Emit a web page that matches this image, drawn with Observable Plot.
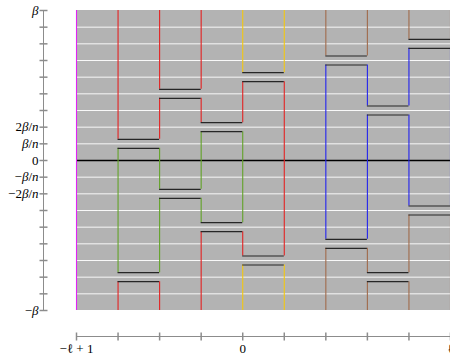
<!DOCTYPE html>
<html>
<head>
<meta charset="utf-8">
<script src="https://cdn.jsdelivr.net/npm/d3@7"></script>
<script src="https://cdn.jsdelivr.net/npm/@observablehq/plot@0.6"></script>
<style>
  html, body { margin: 0; padding: 0; overflow: hidden; background: #fff; width: 450px; height: 354px; }
  svg { max-width: none !important; display: block; }
</style>
</head>
<body>
<div id="chart"></div>
<script>
// ---- data ----
const xMin = -4, xMax = 5;          // -ℓ+1 … ℓ  (ℓ = 5)
const yMin = -9, yMax = 9;          // -β … β in units of β/n (n = 9)
const cutGap = 0.27;                // half gap of a cut pair (units of β/n)

// columns [c, c+1] that carry a pair of cuts, with their levels
const cutColumns = [-3, -2, -1, 0, 2, 3, 4];
const upperCuts  = [ 1,  4,  2, 5, 6, 3, 7];
const lowerCuts  = [-7, -2, -4, -6, -5, -7, -3];

// colored vertical lines at integer positions, pieces listed top to bottom
const RED = "#e32222", GREEN = "#62a328", YELLOW = "#f2c811", BROWN = "#a06b4c", BLUE = "#2424ee", MAGENTA = "#e024f5";
const lineXs = [-4, -3, -2, -1, 0, 1, 2, 3, 4, 5];
const lineColors = [
  [MAGENTA],
  [RED, GREEN, RED],
  [RED, RED, GREEN, GREEN, RED],
  [RED, RED, GREEN, GREEN, RED],
  [YELLOW, RED, GREEN, RED, YELLOW],
  [YELLOW, RED, YELLOW],
  [BROWN, BLUE, BROWN],
  [BROWN, BLUE, BLUE, BROWN, BROWN],
  [BROWN, BLUE, BLUE, BROWN, BROWN],
  [BROWN, BLUE, BROWN]
];

// axes
const gridLevels = [-8, -7, -6, -5, -4, -3, -2, -1, 1, 2, 3, 4, 5, 6, 7, 8];
const yTicks = [-9, -8, -7, -6, -5, -4, -3, -2, -1, 0, 1, 2, 3, 4, 5, 6, 7, 8, 9];
const yLabelValues = [9, 2, 1, 0, -1, -2, -9];
const yLabelText = ["β", "2β/n", "β/n", "0", "−β/n", "−2β/n", "−β"];
const xTicks = [-4, -3, -2, -1, 0, 1, 2, 3, 4, 5];
const xLabelValues = [-4, 0, 5];
const xLabelText = ["−ℓ + 1", "0", "ℓ"];

// ---- derived tables ----
const cutSegments = [];
cutColumns.forEach((c, i) => {
  for (const level of [upperCuts[i], lowerCuts[i]]) {
    cutSegments.push({x1: c, x2: c + 1, y: level + cutGap});
    cutSegments.push({x1: c, x2: c + 1, y: level - cutGap});
  }
});

const verticals = [];
lineXs.forEach((x, i) => {
  const levels = [];
  cutColumns.forEach((c, j) => {
    if (c === x - 1 || c === x) levels.push(upperCuts[j], lowerCuts[j]);
  });
  levels.sort((a, b) => b - a);
  const colors = lineColors[i];
  let top = yMax;
  levels.forEach((lv, k) => {
    verticals.push({x, y1: lv + cutGap, y2: top, color: colors[k]});
    top = lv - cutGap;
  });
  verticals.push({x, y1: yMin, y2: top, color: colors[levels.length]});
});

const hTick = {draw(ctx) { ctx.moveTo(-4, 0); ctx.lineTo(4, 0); }};
const vTick = {draw(ctx) { ctx.moveTo(0, -4); ctx.lineTo(0, 4); }};
const axisColor = "#8c8c8c";
const font = "Liberation Serif";

const chart = Plot.plot({
  width: 470,
  height: 354,
  marginLeft: 76,
  marginRight: 20,
  marginTop: 10,
  marginBottom: 44,
  x: {domain: [xMin, xMax], axis: null},
  y: {domain: [yMin, yMax], axis: null},
  color: {type: "identity"},
  style: {background: "white", overflow: "visible"},
  marks: [
    Plot.rect([0], {x1: () => xMin, x2: () => xMax, y1: () => yMin, y2: () => yMax, fill: "#b3b3b3"}),
    Plot.ruleY(gridLevels, {y: d => d, x1: () => xMin, x2: () => xMax, stroke: "#ffffff", strokeOpacity: 0.9, strokeWidth: 1}),
    Plot.ruleY([0], {y: d => d, x1: () => xMin, x2: () => xMax, stroke: "#000", strokeWidth: 1.6}),
    Plot.ruleX(verticals, {x: "x", y1: "y1", y2: "y2", stroke: "color", strokeWidth: 1.1}),
    Plot.ruleY(cutSegments, {y: "y", x1: "x1", x2: "x2", stroke: "#262626", strokeWidth: 1.1}),
    // y axis
    Plot.ruleX([xMin], {x: d => d, y1: () => yMin, y2: () => yMax, dx: -33, stroke: axisColor}),
    Plot.dot(yTicks, {x: () => xMin, y: d => d, dx: -33, symbol: hTick, stroke: axisColor, fill: "none", r: 4}),
    Plot.text(yLabelValues, {x: () => xMin, y: d => d, dx: -38, text: (d, i) => yLabelText[i], textAnchor: "end", fontSize: 13, fontFamily: font, fill: "#000"}),
    // x axis
    Plot.ruleY([yMin], {y: d => d, x1: () => xMin, x2: () => xMax, dy: 26, stroke: axisColor}),
    Plot.dot(xTicks, {x: d => d, y: () => yMin, dy: 26, symbol: vTick, stroke: axisColor, fill: "none", r: 4}),
    Plot.text(xLabelValues, {x: d => d, y: () => yMin, dy: 38, text: (d, i) => xLabelText[i], textAnchor: "middle", fontSize: 13, fontFamily: font, fill: "#000"})
  ]
});

// italicize the math variables in the labels (runs of characters)
const NS = "http://www.w3.org/2000/svg";
chart.querySelectorAll("text").forEach(el => {
  const s = el.textContent;
  if (!s) return;
  const runs = [];
  for (const ch of s) {
    const it = /[βn]/.test(ch);
    if (runs.length && runs[runs.length - 1].it === it) runs[runs.length - 1].s += ch;
    else runs.push({s: ch, it});
  }
  el.textContent = "";
  for (const r of runs) {
    const t = document.createElementNS(NS, "tspan");
    t.textContent = r.s;
    if (r.it) t.setAttribute("font-style", "italic");
    el.appendChild(t);
  }
});

document.getElementById("chart").appendChild(chart);
</script>
</body>
</html>
